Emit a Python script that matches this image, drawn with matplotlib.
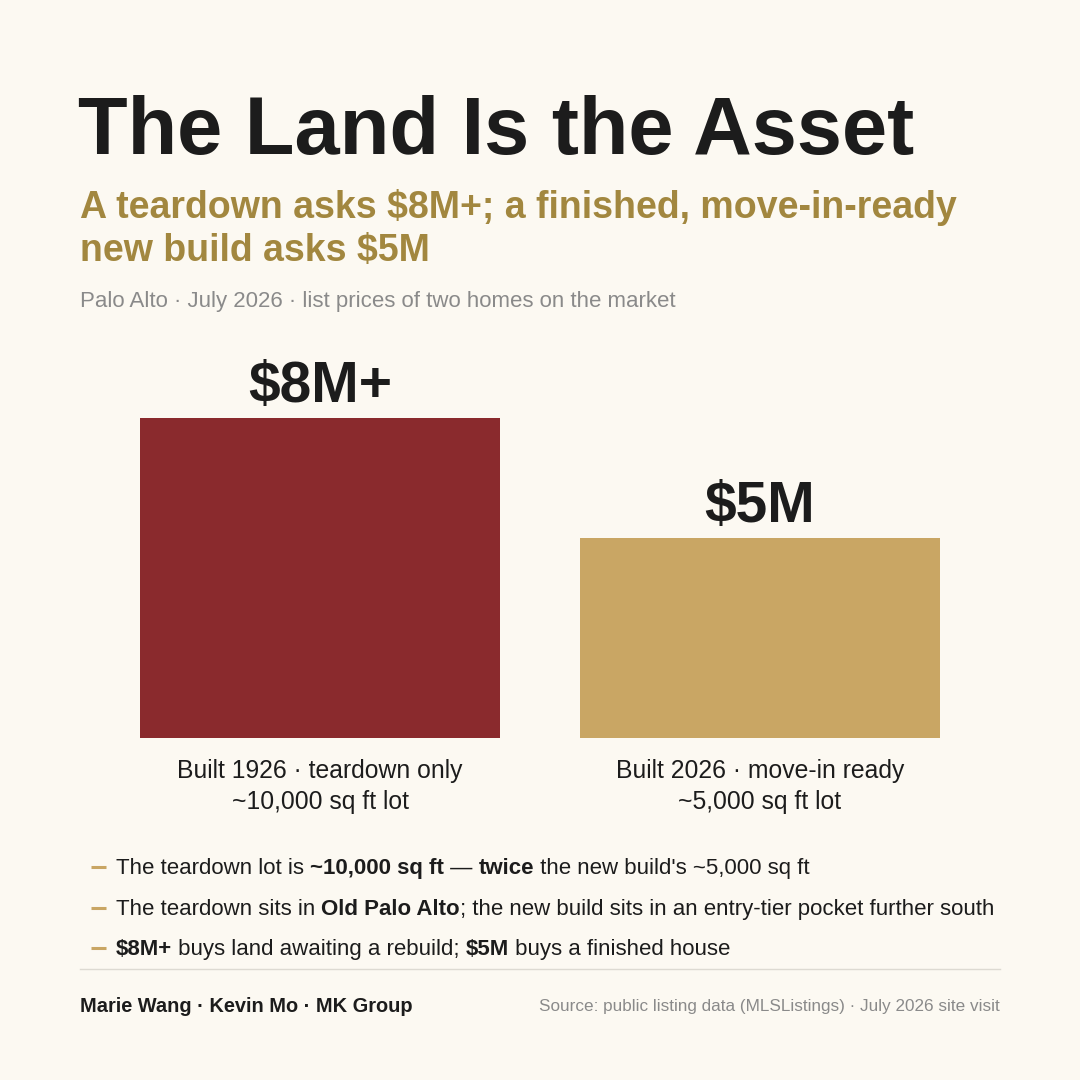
import matplotlib
matplotlib.use("Agg")
import matplotlib.pyplot as plt

# ---- data ----
categories = ["Built 1926 · teardown only\n~10,000 sq ft lot",
              "Built 2026 · move-in ready\n~5,000 sq ft lot"]
prices_m = [8, 5]
value_labels = ["$8M+", "$5M"]
bar_colors = ["#8A2A2D", "#C9A664"]

title = "The Land Is the Asset"
subtitle = "A teardown asks $8M+; a finished, move-in-ready\nnew build asks $5M"
meta = "Palo Alto · July 2026 · list prices of two homes on the market"
bullets = [
    [("The teardown lot is ", False), ("~10,000 sq ft", True), (" — ", False),
     ("twice", True), (" the new build's ~5,000 sq ft", False)],
    [("The teardown sits in ", False), ("Old Palo Alto", True),
     ("; the new build sits in an entry-tier pocket further south", False)],
    [("$8M+", True), (" buys land awaiting a rebuild; ", False), ("$5M", True),
     (" buys a finished house", False)],
]
footer_left = "Marie Wang · Kevin Mo · MK Group"
footer_right = "Source: public listing data (MLSListings) · July 2026 site visit"

BG = "#FCF9F2"
DARK = "#1C1C1C"
GOLD = "#A2873F"
GRAY = "#8A8A8A"
FONT = "Liberation Sans"

W = H = 1080
fig = plt.figure(figsize=(10.8, 10.8), dpi=100, facecolor=BG)

def fx(px):
    return px / W

def fy(py):
    return 1 - py / H

# title block
fig.text(fx(78), fy(154), title, fontsize=58.5, fontweight="bold", color=DARK,
         family=FONT, va="baseline", ha="left")
fig.text(fx(80), fy(229), subtitle, fontsize=27, fontweight="bold", color=GOLD,
         family=FONT, va="center", ha="left", linespacing=1.25)
fig.text(fx(80), fy(302), meta, fontsize=16, color=GRAY, family=FONT,
         va="center", ha="left")

# bar axes: x from 140 to 940 px, baseline y=738 px, top (8) at 418 px
ax = fig.add_axes([fx(140), fy(738), fx(800), (738 - 418) / H])
ax.set_facecolor(BG)
x = [0, 1]
width = 360 / 440
ax.bar(x, prices_m, width=width, color=bar_colors)
ax.set_xlim(-width / 2, 1 + width / 2)
ax.set_ylim(0, 8)
ax.axis("off")
for xi, v, lab in zip(x, prices_m, value_labels):
    ax.annotate(lab, (xi, v), xytext=(0, 3), textcoords="offset points",
                ha="center", va="bottom", fontsize=41, fontweight="bold",
                color=DARK, family=FONT)
for xi, cat in zip(x, categories):
    ax.annotate(cat, (xi, 0), xytext=(0, -15), textcoords="offset points",
                ha="center", va="top", fontsize=17.8, color=DARK, family=FONT,
                linespacing=1.38)

# bullets with mixed weight
fig.canvas.draw()
renderer = fig.canvas.get_renderer()

def seg_width(txt, bold, size):
    w = "bold" if bold else "normal"
    a = fig.text(0, 0, "|" + txt + "|", fontsize=size, family=FONT, fontweight=w)
    b = fig.text(0, 0, "||", fontsize=size, family=FONT, fontweight=w)
    res = a.get_window_extent(renderer).width - b.get_window_extent(renderer).width
    a.remove()
    b.remove()
    return res

BS = 16
bullet_baselines = [874, 915, 955]
for yb, segs in zip(bullet_baselines, bullets):
    fig.add_artist(plt.Line2D([fx(91), fx(106)], [fy(yb - 7), fy(yb - 7)],
                              color="#C9A664", lw=2.2, solid_capstyle="butt"))
    cx = 116
    for txt, bold in segs:
        fig.text(fx(cx), fy(yb), txt, fontsize=BS, color=DARK, family=FONT,
                 va="baseline", ha="left",
                 fontweight="bold" if bold else "normal")
        cx += seg_width(txt, bold, BS)

# separator
fig.add_artist(plt.Line2D([fx(80), fx(1000)], [fy(969), fy(969)],
                          color="#DDDAD2", lw=1))

fig.text(fx(80), fy(1007), footer_left, fontsize=14.4, fontweight="bold",
         color=DARK, family=FONT, va="center", ha="left")
fig.text(fx(1000), fy(1007), footer_right, fontsize=12.3, color=GRAY,
         family=FONT, va="center", ha="right")

fig.savefig("out.png", dpi=100, facecolor=BG)
